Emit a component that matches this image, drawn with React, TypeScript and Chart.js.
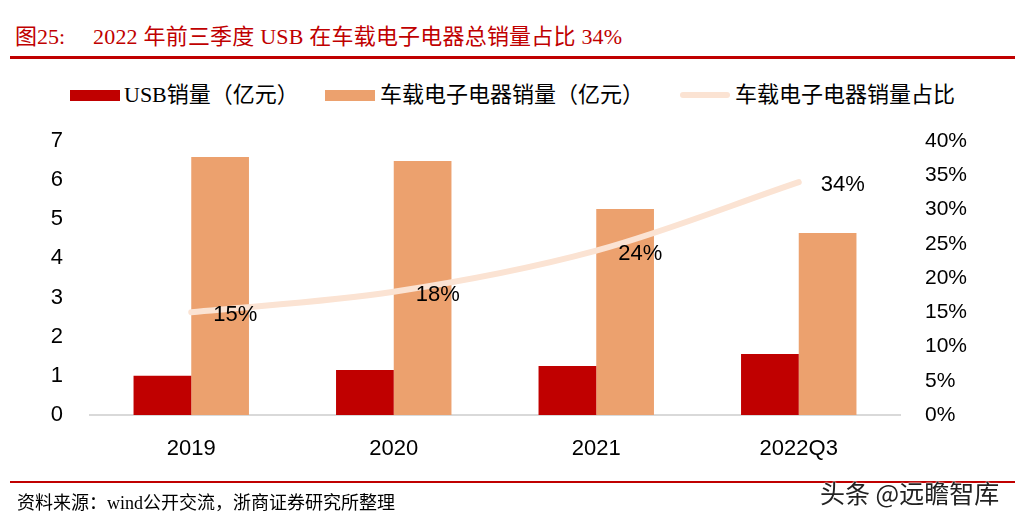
import React, { useEffect, useRef } from "react";
import { Chart, registerables } from "chart.js";

Chart.register(...registerables);

const categories = ["2019", "2020", "2021", "2022Q3"];
const usbSales = [1.0, 1.15, 1.25, 1.56];
const vehicleSales = [6.59, 6.49, 5.26, 4.65];
const usbShare = [0.15, 0.18, 0.24, 0.34];
const shareLabels = ["15%", "18%", "24%", "34%"];

const seriesNames = ["USB销量（亿元）", "车载电子电器销量（亿元）", "车载电子电器销量占比"];
const titleText = "2022 年前三季度 USB 在车载电子电器总销量占比 34%";
const sourceText = "资料来源：wind公开交流，浙商证券研究所整理";

const RED = "#C00000";
const ORANGE = "#ECA16E";
const PEACH = "#FBE3D3";
const SERIF = '"Liberation Serif", "Noto Sans CJK SC", serif';
const SANS = '"Liberation Sans", Arial, sans-serif';

const labelPlugin = {
  id: "shareLabels",
  afterDatasetsDraw(chart: any) {
    const meta = chart.getDatasetMeta(2);
    const ctx = chart.ctx;
    ctx.save();
    ctx.font = `22px ${SANS}`;
    ctx.fillStyle = "#000";
    ctx.textAlign = "center";
    ctx.textBaseline = "middle";
    meta.data.forEach((pt: any, i: number) => {
      ctx.fillText(shareLabels[i], pt.x + 44, pt.y + 3);
    });
    ctx.restore();
  },
};

export default function App() {
  const ref = useRef<HTMLCanvasElement>(null);
  useEffect(() => {
    const chart = new Chart(ref.current!, {
      type: "bar",
      data: {
        labels: categories,
        datasets: [
          {
            type: "bar",
            label: seriesNames[0],
            data: usbSales,
            backgroundColor: RED,
            yAxisID: "y",
            order: 2,
            categoryPercentage: 0.57,
            barPercentage: 1,
          },
          {
            type: "bar",
            label: seriesNames[1],
            data: vehicleSales,
            backgroundColor: ORANGE,
            yAxisID: "y",
            order: 2,
            categoryPercentage: 0.57,
            barPercentage: 1,
          },
          {
            type: "line",
            label: seriesNames[2],
            data: usbShare,
            borderColor: PEACH,
            borderWidth: 6,
            borderCapStyle: "round",
            cubicInterpolationMode: "monotone",
            pointRadius: 0,
            yAxisID: "y1",
            order: 0,
          } as any,
        ],
      },
      options: {
        animation: false,
        responsive: false,
        layout: { padding: { left: 0, right: 0, top: 141, bottom: 55 } },
        plugins: { legend: { display: false }, tooltip: { enabled: false } },
        scales: {
          x: {
            grid: { display: false },
            border: { display: true, color: "#D9D9D9", width: 2 },
            ticks: { color: "#000", font: { size: 22, family: SANS }, padding: 13 },
            afterFit: (s: any) => { s.height = 50; },
          },
          y: {
            position: "left",
            min: 0,
            max: 7,
            grid: { display: false, drawTicks: false },
            border: { display: false },
            ticks: { stepSize: 1, color: "#000", font: { size: 22, family: SANS }, padding: 27 },
            afterFit: (s: any) => { s.width = 90; },
          },
          y1: {
            position: "right",
            min: 0,
            max: 0.4,
            grid: { display: false, drawTicks: false },
            border: { display: false },
            ticks: {
              stepSize: 0.05,
              color: "#000",
              font: { size: 21, family: SANS },
              padding: 25,
              callback: (v: any) => `${Math.round(Number(v) * 100)}%`,
            },
            afterFit: (s: any) => { s.width = 125; },
          },
        },
      },
      plugins: [labelPlugin],
    });
    return () => chart.destroy();
  }, []);

  const legendText: React.CSSProperties = { fontFamily: SERIF, fontSize: 22, color: "#000", position: "absolute", top: 81, lineHeight: "28px", whiteSpace: "nowrap" };

  return (
    <div style={{ position: "absolute", left: 0, top: 0, width: 1025, height: 520, background: "#fff", overflow: "hidden" }}>
      <div style={{ position: "absolute", left: 15, top: 22, fontFamily: SERIF, fontSize: 22, color: RED, lineHeight: "30px", whiteSpace: "nowrap" }}>图25:</div>
      <div style={{ position: "absolute", left: 93, top: 22, fontFamily: SERIF, fontSize: 22, color: RED, lineHeight: "30px", whiteSpace: "nowrap", letterSpacing: 0.2 }}>{titleText}</div>
      <div style={{ position: "absolute", left: 10, top: 56, width: 1005, height: 3, background: RED }} />

      <div style={{ position: "absolute", left: 70, top: 90, width: 50, height: 11, background: RED }} />
      <div style={{ ...legendText, left: 124 }}>{seriesNames[0]}</div>
      <div style={{ position: "absolute", left: 325, top: 90, width: 50, height: 11, background: ORANGE }} />
      <div style={{ ...legendText, left: 380 }}>{seriesNames[1]}</div>
      <div style={{ position: "absolute", left: 680, top: 92, width: 50, height: 6, borderRadius: 3, background: PEACH }} />
      <div style={{ ...legendText, left: 735 }}>{seriesNames[2]}</div>

      <canvas ref={ref} width={1025} height={520} style={{ position: "absolute", left: 0, top: 0 }} />

      <div style={{ position: "absolute", left: 10, top: 481, width: 1005, height: 2, background: RED }} />
      <div style={{ position: "absolute", left: 17, top: 490, fontFamily: SERIF, fontSize: 18, color: "#000", lineHeight: "26px", whiteSpace: "nowrap" }}>{sourceText}</div>
      <div style={{ position: "absolute", left: 820, top: 477, fontFamily: '"Noto Sans CJK SC", sans-serif', fontSize: 25, color: "#222", lineHeight: "30px", whiteSpace: "nowrap", textShadow: "0 0 2px #fff, 0 0 2px #fff" }}>头条 @远瞻智库</div>
    </div>
  );
}
